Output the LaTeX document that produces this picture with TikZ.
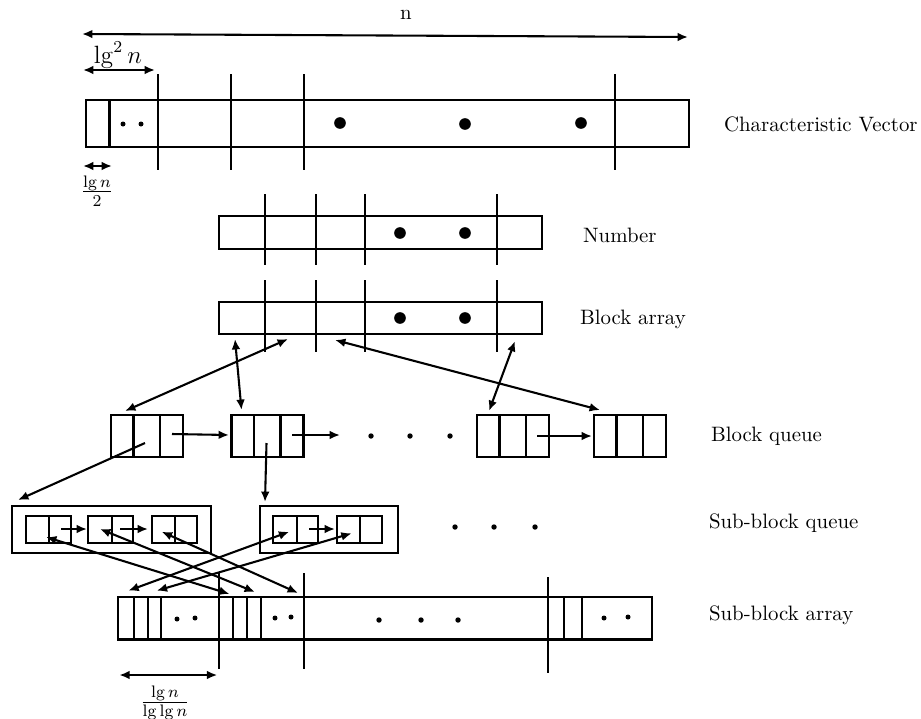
\documentclass[tikz,border=0pt]{standalone}
\usetikzlibrary{arrows.meta}
\begin{document}
\begin{tikzpicture}[x=0.48pt,y=-0.48pt,
  line width=1pt,
  arr/.style={-{Latex[length=5pt,width=4.2pt]}},
  darr/.style={{Latex[length=5pt,width=4.2pt]}-{Latex[length=5pt,width=4.2pt]}},
  lbl/.style={anchor=west,inner sep=0pt,font=\normalsize},
  txt/.style={inner sep=0pt}]
\useasboundingbox (0,0) rectangle (921,718);

% ---------- top dimension arrows ----------
\coordinate (nL) at (82,34); \coordinate (nR) at (688,37);
\draw[darr] (nL) -- (nR);
\node[txt] (nlab) at (406,15) {n};
\coordinate (l2L) at (83,70); \coordinate (l2R) at (155,70);
\draw[darr] (l2L) -- (l2R);
\node[txt,font=\large] (l2lab) at (118,55) {$\lg^2 n$};

% ---------- characteristic vector ----------
\draw (86,100) rectangle (689,147);
\draw (109.5,100) -- (109.5,147);
\fill (123,124) circle (1.2pt) (141,124) circle (1.2pt);
\foreach \x in {158,231,304,615} \draw (\x,74) -- (\x,170);
\fill (340,123) circle (2.8pt) (465,124) circle (2.8pt) (581,123) circle (2.8pt);
\node[lbl] (cv) at (723,124) {Characteristic Vector};
\coordinate (hL) at (83,166); \coordinate (hR) at (112,166);
\draw[darr] (hL) -- (hR);
\node[txt,font=\large] (half) at (97,191) {$\frac{\lg n}{2}$};

% ---------- number ----------
\draw (219,216) rectangle (542,249);
\foreach \x in {265,316,365,497} \draw (\x,194) -- (\x,265);
\fill (400,233) circle (2.8pt) (465,233) circle (2.8pt);
\node[lbl] (num) at (582,235) {Number};

% ---------- block array ----------
\draw (219,302) rectangle (542,334);
\foreach \x in {265,316,365,497} \draw (\x,280) -- (\x,352);
\fill (400,318) circle (2.8pt) (465,318) circle (2.8pt);
\node[lbl] (ba) at (579,319) {Block array};

% ---------- block queue ----------
\foreach \x in {111,231.5,477,594}{
  \draw (\x,415) rectangle ++(72,42);
  \draw (\x+22.5,415) -- (\x+22.5,457);
  \draw (\x+49,415) -- (\x+49,457);
}
\fill (371,436) circle (1.3pt) (410,436) circle (1.3pt) (450,436) circle (1.3pt);
\node[lbl] (bq) at (710,436) {Block queue};

% block array <-> block queue
\coordinate (a1) at (235,339);   \coordinate (b1) at (241.5,410);
\coordinate (a2) at (288,339);   \coordinate (b2) at (125,411);
\coordinate (a3) at (335,340);   \coordinate (b3) at (600,410);
\coordinate (a4) at (515,341);   \coordinate (b4) at (489,411);
\draw[darr] (a1) -- (b1);
\draw[darr] (a2) -- (b2);
\draw[darr] (a3) -- (b3);
\draw[darr] (a4) -- (b4);

% queue links
\coordinate (q1s) at (172,434); \coordinate (q1e) at (229,435);
\coordinate (q2s) at (292,435); \coordinate (q2e) at (340,435);
\coordinate (q3s) at (537,436); \coordinate (q3e) at (592,436);
\draw[arr] (q1s) -- (q1e);
\draw[arr] (q2s) -- (q2e);
\draw[arr] (q3s) -- (q3e);

% block queue -> sub-block queue
\coordinate (d1s) at (145,443); \coordinate (d1e) at (18,500);
\coordinate (d2s) at (266.5,443); \coordinate (d2e) at (265,502);
\draw[arr] (d1s) -- (d1e);
\draw[arr] (d2s) -- (d2e);

% ---------- sub-block queue ----------
\draw (12,506) rectangle (211,553);
\draw (260,506) rectangle (398,553);
\foreach \x in {25.7,88.3,151.7,273.3,336.7}{
  \draw (\x,516) rectangle ++(45,27);
  \draw (\x+23.5,516) -- (\x+23.5,543);
}
\fill (455,527) circle (1.3pt) (494,527) circle (1.3pt) (535,527) circle (1.3pt);
\node[lbl] (sbq) at (708,523) {Sub-block queue};
\coordinate (s1s) at (61,529);  \coordinate (s1e) at (87,529);
\coordinate (s2s) at (120,529); \coordinate (s2e) at (148,529);
\coordinate (s3s) at (309,529); \coordinate (s3e) at (335,529);
\draw[arr] (s1s) -- (s1e);
\draw[arr] (s2s) -- (s2e);
\draw[arr] (s3s) -- (s3e);

% ---------- sub-block array ----------
\draw (118.3,597) rectangle (652.3,639.5);
\foreach \x in {134.3,147.7,161,233.3,246.7,260.7,564,582.3} \draw (\x,597) -- (\x,639.5);
\draw (219.3,573) -- (219.3,669);
\draw (304.3,573) -- (304.3,669);
\draw (548.3,577) -- (548.3,673);
\fill (177,619) circle (1.2pt) (195,618) circle (1.2pt)
      (275,618) circle (1.2pt) (291,617) circle (1.2pt)
      (379,620) circle (1.3pt) (421,620) circle (1.3pt) (458,620) circle (1.3pt)
      (604,618) circle (1.2pt) (628,617) circle (1.2pt);
\node[lbl] (sba) at (708,615) {Sub-block array};

% crossing links
\coordinate (c1a) at (46,537);    \coordinate (c1b) at (229.5,594);
\coordinate (c2a) at (100,529);   \coordinate (c2b) at (255,592);
\coordinate (c3a) at (161.7,531.7); \coordinate (c3b) at (298,593);
\coordinate (c4a) at (289.3,531.7); \coordinate (c4b) at (128.3,590.7);
\coordinate (c5a) at (351.7,533.3); \coordinate (c5b) at (156.7,590.7);
\draw[darr] (c1a) -- (c1b);
\draw[darr] (c2a) -- (c2b);
\draw[darr] (c3a) -- (c3b);
\draw[darr] (c4a) -- (c4b);
\draw[darr] (c5a) -- (c5b);

% bottom dimension
\coordinate (bL) at (119.3,675); \coordinate (bR) at (217.3,675);
\draw[darr] (bL) -- (bR);
\node[txt,font=\large] (llf) at (165,703) {$\frac{\lg n}{\lg\lg n}$};
\end{tikzpicture}
\end{document}
